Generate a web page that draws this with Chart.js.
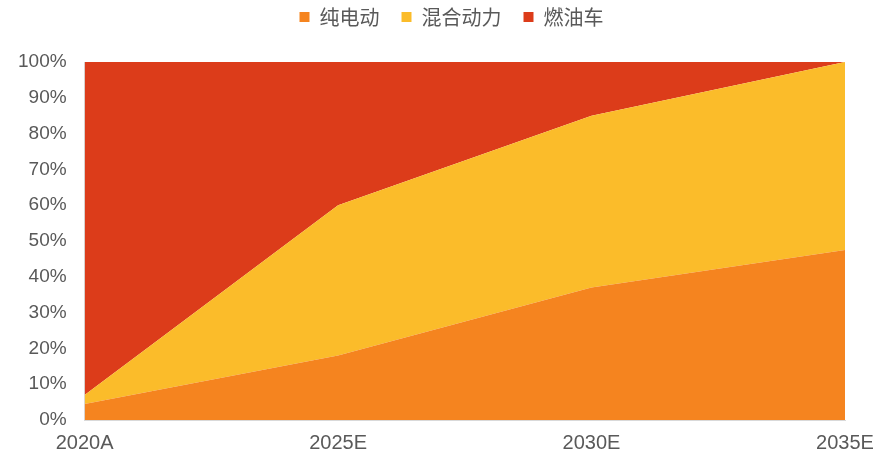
<!DOCTYPE html>
<html>
<head>
<meta charset="utf-8">
<script src="https://cdn.jsdelivr.net/npm/chart.js@4/dist/chart.umd.min.js"></script>
<style>
  body { margin: 0; background: #fff; }
  #wrap { width: 881px; height: 457px; }
</style>
</head>
<body>
<div id="wrap"><canvas id="chartMix"></canvas></div>
<script>
// data (persen)
const years = ['2020A', '2025E', '2030E', '2035E'];
const bev = [4.5, 18, 37, 47.5];
const hybrid = [2.5, 42, 48, 52.5];
const ice = [93, 40, 15, 0];
const yTicks = [0, 10, 20, 30, 40, 50, 60, 70, 80, 90, 100];

document.addEventListener("DOMContentLoaded", function () {
    const ctx = document.getElementById('chartMix').getContext('2d');
    Chart.defaults.font.family = "'Liberation Sans', 'Noto Sans CJK SC', sans-serif";
    Chart.defaults.color = '#595959';

    const area = (label, data, color, fill) => ({
        label: label,
        data: data,
        backgroundColor: color,
        borderColor: color,
        borderWidth: 0,
        pointRadius: 0,
        tension: 0,
        fill: fill
    });

    // tambah jarak di bawah legend, lalu geser legend ke kanan
    const legendGap = {
        id: 'legendGap',
        beforeInit(chart) {
            const fit = chart.legend.fit;
            chart.legend.fit = function () {
                fit.bind(chart.legend)();
                this.height += 25;
            };
        },
        afterLayout(chart) {
            chart.legend.left += 29;
            chart.legend.right += 29;
        }
    };

    new Chart(ctx, {
        type: 'line',
        data: {
            labels: years,
            datasets: [
                area('纯电动', bev, '#F5841F', 'origin'),
                area('混合动力', hybrid, '#FBBC2A', '-1'),
                area('燃油车', ice, '#DC3C1A', '-1')
            ]
        },
        options: {
            responsive: true,
            maintainAspectRatio: false,
            animation: false,
            layout: { padding: { left: 0, right: 36, top: -15, bottom: -9 } },
            plugins: {
                legend: {
                    position: 'top',
                    labels: {
                        boxWidth: 10,
                        boxHeight: 10,
                        padding: 22,
                        font: { size: 20, family: "'Noto Sans CJK SC', sans-serif" },
                        color: '#595959'
                    }
                },
                tooltip: { enabled: false }
            },
            scales: {
                x: {
                    offset: false,
                    grid: { display: false, drawTicks: false },
                    border: { color: '#d9d9d9' },
                    ticks: { font: { size: 20 }, maxRotation: 0, padding: 11 },
                    afterFit: axis => { axis.paddingRight = 0; }
                },
                y: {
                    stacked: true,
                    min: 0,
                    max: 100,
                    afterBuildTicks: axis => { axis.ticks = yTicks.map(v => ({ value: v })); },
                    grid: { display: false, drawTicks: false },
                    border: { color: '#d9d9d9' },
                    ticks: { font: { size: 19 }, padding: 18, callback: v => v + '%' }
                }
            }
        },
        plugins: [legendGap]
    });
});
</script>
</body>
</html>
